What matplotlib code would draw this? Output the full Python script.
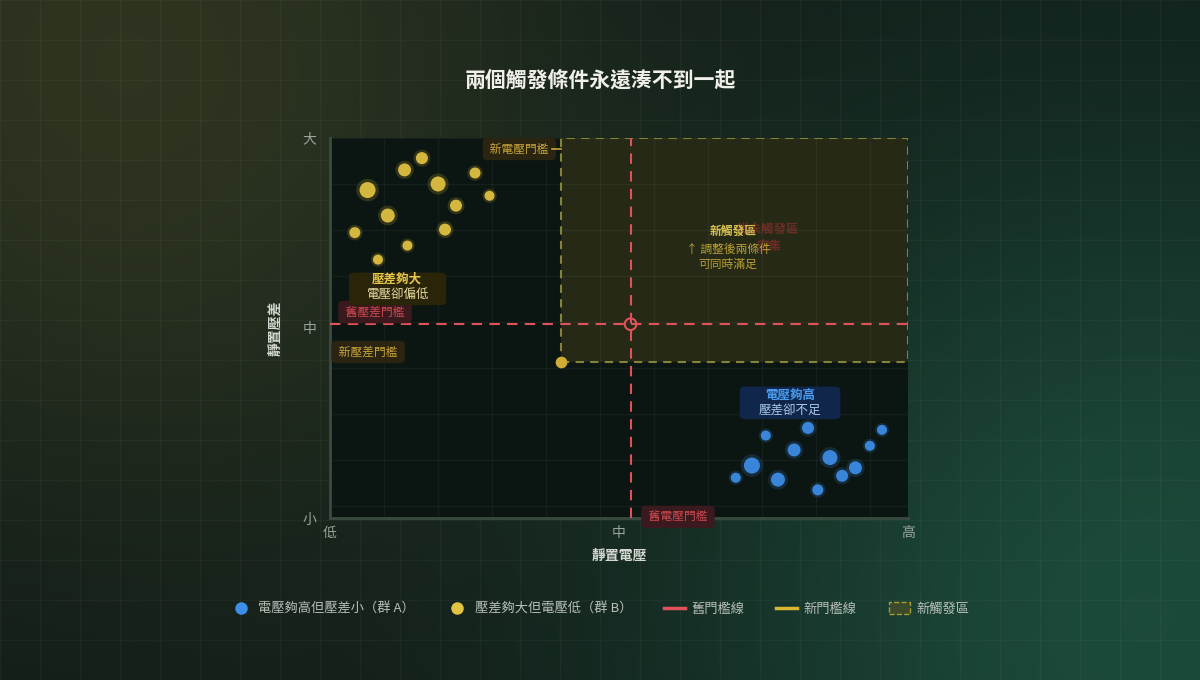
import numpy as np
import matplotlib
matplotlib.use('Agg')
import matplotlib.pyplot as plt
from matplotlib.patches import Rectangle, Patch, FancyBboxPatch
from matplotlib.lines import Line2D

plt.rcParams['font.family'] = ['Noto Sans CJK TC', 'DejaVu Sans']

# group A: voltage high, diff small
a_x = [75.4, 82.7, 95.5, 93.4, 80.3, 86.5, 90.9, 73.0, 88.6, 70.2, 77.5, 84.4]
a_y = [21.7, 23.7, 23.2, 19.0, 17.9, 15.9, 13.2, 13.8, 11.1, 10.6, 10.1, 7.4]
a_s = [52, 75, 52, 52, 87, 116, 87, 133, 75, 52, 101, 63]

# group B: diff large, voltage low
b_x = [6.5, 12.9, 15.9, 18.7, 25.1, 27.6, 21.8, 10.0, 4.3, 19.9, 13.4, 8.3]
b_y = [86.3, 91.6, 94.7, 87.9, 90.8, 84.8, 82.2, 79.6, 75.1, 75.9, 71.7, 68.0]
b_s = [133, 87, 75, 116, 63, 52, 75, 101, 63, 75, 52, 52]

old_v, old_d = 52, 51
new_v, new_d = 40, 41

tick_pos = [0, 50, 100]
x_ticklabels = ['低', '中', '高']
y_ticklabels = ['小', '中', '大']

RED = '#e0525a'
GOLD = '#d8b534'
BLUE = '#3d8ee8'
YEL = '#e3c342'

W, H = 1200, 680
fig = plt.figure(figsize=(12, 6.8), dpi=100)

# background gradient + faint grid
bg = fig.add_axes([0, 0, 1, 1], zorder=-2)
yy, xx = np.mgrid[0:H, 0:W]
g1 = np.exp(-((xx - 120) ** 2 + (yy - 60) ** 2) / 450.0 ** 2)
g2 = np.exp(-((xx - 1150) ** 2 + (yy - 620) ** 2) / 480.0 ** 2)
base = np.array([16, 28, 24])
img = base + g1[..., None] * np.array([30, 24, 8]) + g2[..., None] * np.array([12, 46, 34])
bg.imshow(np.clip(img, 0, 255).astype(np.uint8), extent=[0, W, H, 0], aspect='auto')
for gx in range(0, W, 40):
    bg.axvline(gx, color='white', alpha=0.035, lw=1)
for gy in range(0, H, 40):
    bg.axhline(gy, color='white', alpha=0.035, lw=1)
bg.set_xlim(0, W)
bg.set_ylim(H, 0)
bg.axis('off')

ax = fig.add_axes([330 / W, 1 - 518 / H, 578 / W, 380 / H])
ax.set_facecolor('#0b1511')
ax.set_xlim(0, 100)
ax.set_ylim(0, 100)

# inner grid
for gx in np.arange(0, 100, 9.35):
    ax.axvline(gx, color='white', alpha=0.045, lw=1, zorder=0)
for gy in np.arange(100, 0, -12.1):
    ax.axhline(gy, color='white', alpha=0.045, lw=1, zorder=0)

for s in ['top', 'right']:
    ax.spines[s].set_visible(False)
for s in ['left', 'bottom']:
    ax.spines[s].set_color('#3a4c42')
    ax.spines[s].set_linewidth(2)

ax.set_xticks(tick_pos)
ax.set_xticklabels(x_ticklabels)
ax.set_yticks(tick_pos)
ax.set_yticklabels(y_ticklabels)
ax.tick_params(length=0, colors='#9aa59c', labelsize=10)
ax.tick_params(axis='x', pad=6)
ax.tick_params(axis='y', pad=10)
ax.set_xlabel('靜置電壓', color='#d4d8d0', fontsize=10, fontweight='bold', labelpad=6)
ax.set_ylabel('靜置壓差', color='#d4d8d0', fontsize=10, fontweight='bold', labelpad=14)

# new trigger zone
ax.add_patch(Rectangle((new_v, new_d), 100 - new_v, 100 - new_d, facecolor=GOLD, alpha=0.13,
                       edgecolor='none', zorder=1))
ax.add_patch(Rectangle((new_v, new_d), 100 - new_v, 100 - new_d, facecolor='none',
                       edgecolor='#85823a', lw=1.5, ls=(0, (4, 3)), zorder=2))

# old thresholds
ax.axvline(old_v, color=RED, lw=1.5, ls=(0, (5, 3.5)), zorder=3)
ax.axhline(old_d, color=RED, lw=1.5, ls=(0, (5, 3.5)), zorder=3)
ax.scatter([old_v], [old_d], s=70, facecolors='none', edgecolors=RED, lw=1.5, zorder=4)
ax.scatter([new_v], [new_d], s=55, color='#d0ac34', zorder=4)

# points with glow
ax.scatter(a_x, a_y, s=[v * 2.0 for v in a_s], color=BLUE, alpha=0.18, lw=0, zorder=4)
ax.scatter(a_x, a_y, s=a_s, color=BLUE, alpha=0.92, lw=0, zorder=5)
ax.scatter(b_x, b_y, s=[v * 2.0 for v in b_s], color=YEL, alpha=0.18, lw=0, zorder=4)
ax.scatter(b_x, b_y, s=b_s, color=YEL, alpha=0.92, lw=0, zorder=5)

# threshold tags
tag = dict(boxstyle='round,pad=0.4', ec='none')
ax.text(38.3, 97.1, ' 新電壓門檻 ', color='#c9a63a', fontsize=8.5, ha='right', va='center',
        bbox=dict(tag, fc='#2a2410'), zorder=6)
ax.plot([38.4, 40], [97.1, 97.1], color='#c9a63a', lw=1.2, zorder=6)
ax.text(60.2, 0.3, ' 舊電壓門檻 ', color='#d04850', fontsize=8.5, ha='center', va='center',
        bbox=dict(tag, fc='#3a1a1e'), zorder=6, clip_on=False)
ax.text(7.8, 54.2, ' 舊壓差門檻 ', color='#d04850', fontsize=8.5, ha='center', va='center',
        bbox=dict(tag, fc='#3a1a1e'), zorder=6)
ax.text(6.6, 43.7, ' 新壓差門檻 ', color='#c9a63a', fontsize=8.5, ha='center', va='center',
        bbox=dict(tag, fc='#2a2410'), zorder=6)

# group callouts
ax.add_patch(FancyBboxPatch((3.3, 56.0), 16.8, 8.6, boxstyle='round,pad=0,rounding_size=1.2',
                            fc='#2a2408', ec='none', zorder=6, mutation_aspect=0.66))
ax.text(11.6, 62.8, '壓差夠大', color='#e8c84a', fontsize=9, fontweight='bold', ha='center',
        va='center', zorder=7)
ax.text(11.6, 58.8, '電壓卻偏低', color='#e6d9a0', fontsize=9, ha='center', va='center', zorder=7)

ax.add_patch(FancyBboxPatch((70.9, 26.0), 17.4, 8.6, boxstyle='round,pad=0,rounding_size=1.2',
                            fc='#10264a', ec='none', zorder=6, mutation_aspect=0.66))
ax.text(79.6, 32.3, '電壓夠高', color='#4a9cf0', fontsize=9, fontweight='bold', ha='center',
        va='center', zorder=7)
ax.text(79.6, 28.3, '壓差卻不足', color='#a8c8ee', fontsize=9, ha='center', va='center', zorder=7)

# zone labels
ax.text(75.8, 76.0, '從未觸發區', color='#c0343c', alpha=0.45, fontsize=9, fontweight='bold',
        ha='center', va='center', zorder=5)
ax.text(76.0, 71.4, '空集', color='#c0343c', alpha=0.45, fontsize=9, fontweight='bold',
        ha='center', va='center', zorder=5)
ax.text(69.7, 75.5, '新觸發區', color='#d8c050', fontsize=8.5, fontweight='bold',
        ha='center', va='center', zorder=6)
ax.text(68.9, 68.7, '↑ 調整後兩條件\n可同時滿足', color='#b8a034', fontsize=8.5,
        ha='center', va='center', linespacing=1.25, zorder=6)

fig.text(0.5, 1 - 80 / H, '兩個觸發條件永遠湊不到一起', color='#f0f0ea', fontsize=15,
         fontweight='bold', ha='center', va='center')

handles = [
    Line2D([], [], marker='o', ls='none', color=BLUE, markersize=8),
    Line2D([], [], marker='o', ls='none', color=YEL, markersize=8),
    Line2D([], [], color=RED, lw=2.5),
    Line2D([], [], color=GOLD, lw=2.5),
    Patch(facecolor='#3a4a2a', edgecolor='#a89a34', ls='--', lw=1),
]
labels = ['電壓夠高但壓差小（群 A）', '壓差夠大但電壓低（群 B）', '舊門檻線', '新門檻線', '新觸發區']
fig.legend(handles, labels, loc='center', bbox_to_anchor=(0.5, 1 - 609 / H), ncol=5,
           frameon=False, fontsize=9.5, labelcolor='#b8c0b8', columnspacing=2.4,
           handlelength=1.6, handletextpad=0.5, handleheight=1.0)

fig.savefig('out.png', dpi=100)
